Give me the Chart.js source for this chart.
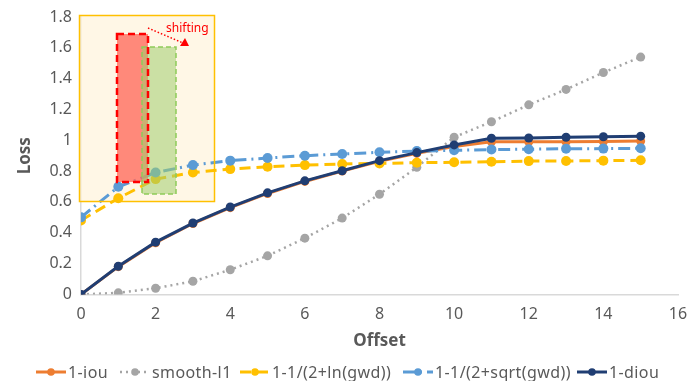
<!DOCTYPE html>
<html>
<head>
<meta charset="utf-8">
<script src="https://cdn.jsdelivr.net/npm/chart.js@4"></script>
<style>
  html, body { margin: 0; padding: 0; background: #fff; }
  #wrap { width: 687px; height: 381px; position: relative; }
</style>
</head>
<body>
<div id="wrap"><canvas id="lossChart"></canvas></div>
<script>
  // values
  const offsets = [0, 1, 2, 3, 4, 5, 6, 7, 8, 9, 10, 11, 12, 13, 14, 15];
  const iouLoss = [0, 0.18, 0.335, 0.46, 0.563, 0.655, 0.733, 0.8, 0.863, 0.915, 0.96, 0.99, 0.99, 0.99, 0.992, 0.995];
  const smoothL1 = [0, 0.01, 0.04, 0.085, 0.16, 0.25, 0.365, 0.495, 0.65, 0.825, 1.02, 1.12, 1.23, 1.33, 1.44, 1.54];
  const gwdLn = [0.48, 0.624, 0.748, 0.791, 0.813, 0.828, 0.839, 0.846, 0.85, 0.855, 0.857, 0.861, 0.865, 0.866, 0.868, 0.87];
  const gwdSqrt = [0.5, 0.698, 0.791, 0.839, 0.868, 0.885, 0.9, 0.911, 0.922, 0.93, 0.935, 0.94, 0.942, 0.945, 0.946, 0.948];
  const diouLoss = [0, 0.183, 0.339, 0.463, 0.567, 0.659, 0.737, 0.802, 0.868, 0.92, 0.97, 1.013, 1.015, 1.02, 1.023, 1.027];
  const seriesNames = ['1-iou', 'smooth-l1', '1-1/(2+ln(gwd))', '1-1/(2+sqrt(gwd))', '1-diou'];

  const FONT = '"Noto Sans", "Liberation Sans", sans-serif';
  const GREY = '#595959';

  const pts = (ys) => offsets.map((x, i) => ({ x, y: ys[i] }));

  function series(label, ys, color, dash, width, radius, order) {
    return {
      label,
      data: pts(ys),
      borderColor: color,
      backgroundColor: color,
      borderWidth: width,
      borderDash: dash,
      pointRadius: radius,
      pointBorderWidth: 0,
      pointHoverRadius: radius,
      order,
    };
  }

  const datasets = [
    series(seriesNames[0], iouLoss, '#ED7D31', [], 3, 4.5, 5),
    series(seriesNames[1], smoothL1, '#A5A5A5', [2, 4], 2.5, 4.5, 4),
    series(seriesNames[2], gwdLn, '#FFC000', [11, 6], 3, 5, 3),
    series(seriesNames[3], gwdSqrt, '#5B9BD5', [12, 5, 2, 5], 3, 5, 2),
    series(seriesNames[4], diouLoss, '#203E73', [], 3, 4.5, 1),
  ];

  // legend item left edges, as in the reference
  const legendX = [36, 120, 240, 403, 577];

  // inset sketch (box shifting) + custom legend
  const decor = {
    id: 'decor',
    beforeDatasetsDraw(chart) {
      const c = chart.ctx;
      c.save();
      c.fillStyle = 'rgba(255,242,214,0.6)';
      c.fillRect(79.5, 15.5, 135, 186);
      c.restore();
    },
    afterDatasetsDraw(chart) {
      const c = chart.ctx;
      c.save();
      c.strokeStyle = '#FFC000';
      c.lineWidth = 1.5;
      c.strokeRect(79.5, 15.5, 135, 186);

      // red box
      c.fillStyle = 'rgba(255,100,85,0.75)';
      c.fillRect(117, 34, 31, 148);
      // green box
      c.fillStyle = 'rgba(160,205,110,0.55)';
      c.fillRect(142, 47, 34, 147);
      c.setLineDash([5, 3]);
      c.lineWidth = 1.5;
      c.strokeStyle = '#8FCB5A';
      c.strokeRect(142, 47, 34, 147);
      c.setLineDash([7, 4]);
      c.lineWidth = 2.5;
      c.strokeStyle = '#FF0000';
      c.strokeRect(117, 34, 31, 148);

      // arrow
      c.setLineDash([1.5, 2]);
      c.lineWidth = 1.5;
      c.beginPath();
      c.moveTo(148, 28);
      c.lineTo(183, 43);
      c.stroke();
      c.setLineDash([]);
      c.fillStyle = '#FF0000';
      c.beginPath();
      c.moveTo(189, 46);
      c.lineTo(180, 46);
      c.lineTo(185, 38);
      c.closePath();
      c.fill();
      c.font = '12px ' + FONT;
      c.textBaseline = 'middle';
      c.fillText('shifting', 166, 29);
      c.restore();
    },
    afterDraw(chart) {
      const c = chart.ctx;
      c.save();
      c.font = '16px ' + FONT;
      c.letterSpacing = '0.4px';
      c.textBaseline = 'middle';
      const sw = 30, y = 372;
      chart.data.datasets.forEach((d, i) => {
        const x = legendX[i];
        c.strokeStyle = d.borderColor;
        c.lineWidth = d.borderWidth;
        c.setLineDash(d.borderDash);
        c.beginPath();
        c.moveTo(x, y);
        c.lineTo(x + sw, y);
        c.stroke();
        c.setLineDash([]);
        c.fillStyle = d.borderColor;
        c.beginPath();
        c.arc(x + sw / 2, y, 3.8, 0, Math.PI * 2);
        c.fill();
        c.fillStyle = GREY;
        c.fillText(d.label, x + sw + 2, y + 1);
      });
      c.restore();
    },
  };

  new Chart(document.getElementById('lossChart'), {
    type: 'line',
    data: { datasets },
    options: {
      responsive: true,
      maintainAspectRatio: false,
      animation: false,
      layout: { padding: { top: 17, right: 9, bottom: 30, left: 15 } },
      plugins: { legend: { display: false }, tooltip: { enabled: false } },
      scales: {
        x: {
          type: 'linear',
          min: 0,
          max: 16,
          ticks: { stepSize: 2, color: GREY, font: { family: FONT, size: 16 }, padding: 10 },
          grid: { display: false, drawTicks: false },
          border: { color: '#D9D9D9', width: 1.5 },
          title: { display: true, text: 'Offset', color: GREY, font: { family: FONT, size: 17, weight: 'bold' }, padding: { top: -3, bottom: 0 } },
          afterFit(scale) { scale.paddingLeft = 0; scale.paddingRight = 0; },
        },
        y: {
          min: 0,
          max: 1.8,
          ticks: {
            stepSize: 0.2, color: GREY, font: { family: FONT, size: 16 }, padding: 9,
            callback: (v) => String(Number(v.toFixed(1))),
          },
          grid: { display: false, drawTicks: false },
          border: { color: '#D9D9D9', width: 1.5 },
          title: { display: true, text: 'Loss', color: GREY, font: { family: FONT, size: 17, weight: 'bold' }, padding: { top: 0, bottom: 5 } },
          afterFit(scale) { scale.paddingTop = 0; scale.paddingBottom = 0; },
        },
      },
    },
    plugins: [decor],
  });
</script>
</body>
</html>
